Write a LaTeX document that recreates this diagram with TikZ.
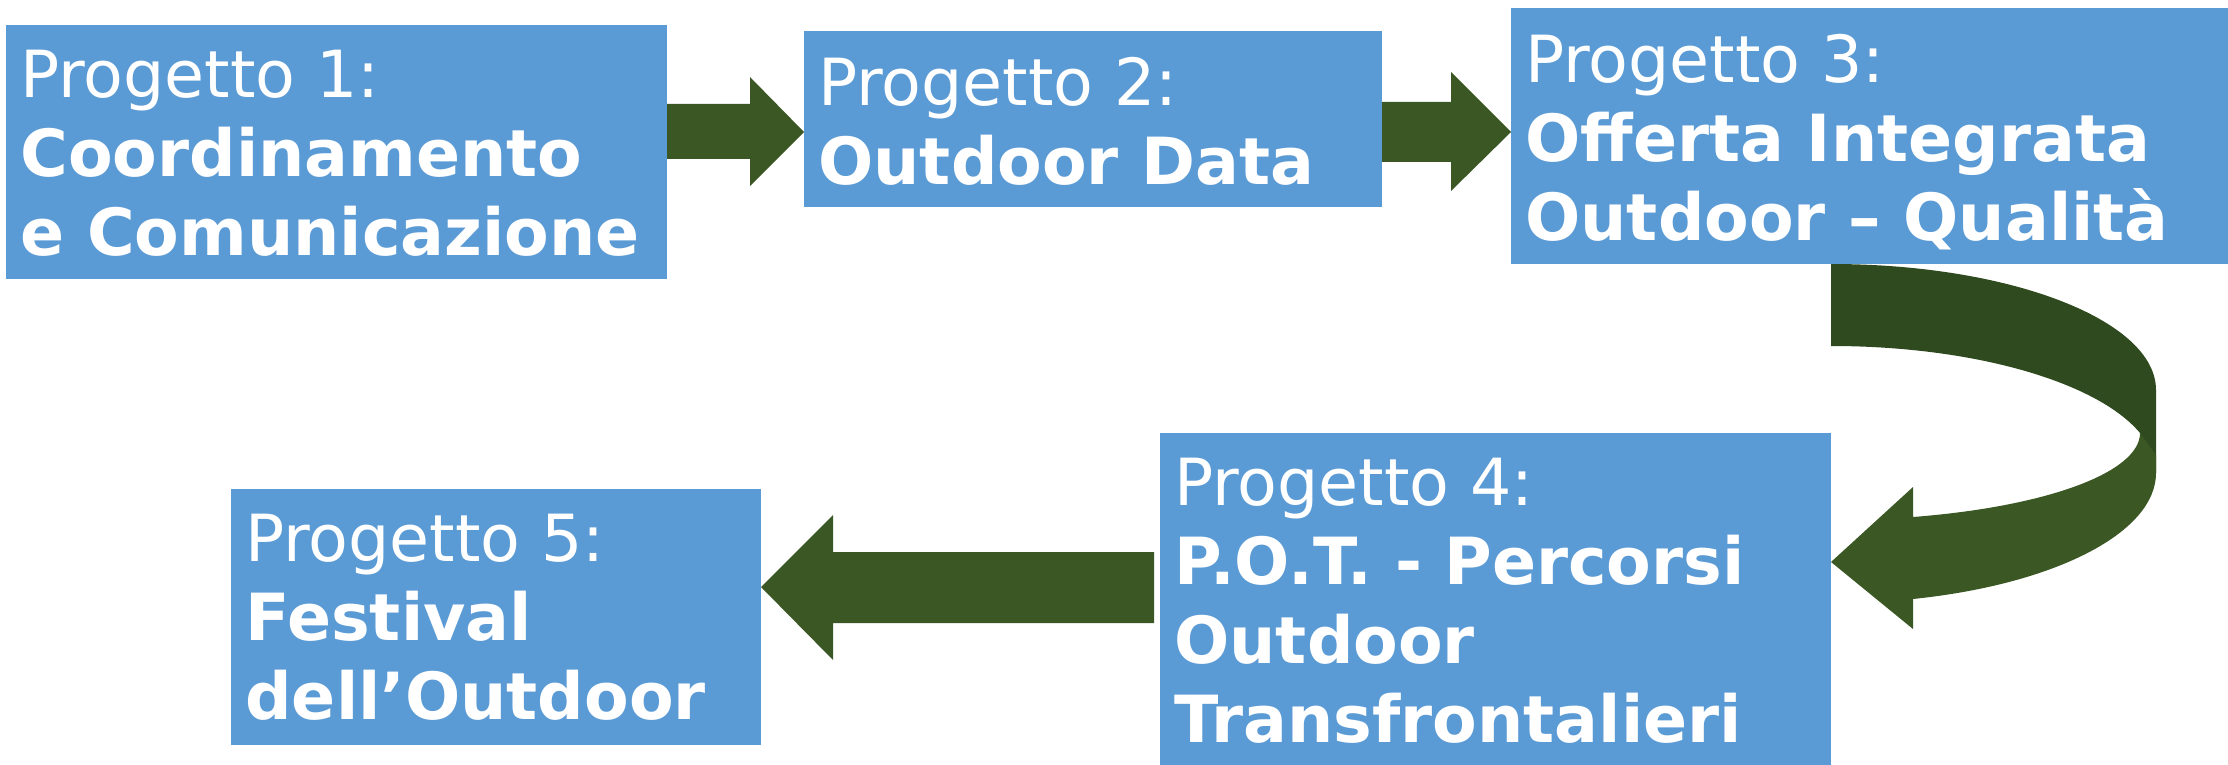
\documentclass[tikz,border=0pt]{standalone}
\usepackage{fontspec}
\setmainfont{DejaVu Sans}
\usetikzlibrary{calc}
\definecolor{boxblue}{HTML}{5B9BD5}
\definecolor{arrgreen}{HTML}{3B5724}
\definecolor{arrdark}{HTML}{2F4A1E}
\tikzset{
  box/.style={fill=boxblue, draw=none, inner sep=0pt, outer sep=0pt, anchor=north west},
  boxtext/.style={text=white, inner sep=0pt, anchor=north west, align=left,
    font=\fontsize{32.5}{39.5}\selectfont},
  blockarrow/.style={fill=arrgreen, draw=none},
  blockback/.style={fill=arrdark, draw=none}
}
\begin{document}
\begin{tikzpicture}[x=0.5pt, y=-0.5pt]
\useasboundingbox (0,0) rectangle (2228,765);
% boxes
\node[box, minimum width=330.5pt, minimum height=127pt] (b1) at (6,25) {};
\node[box, minimum width=289pt, minimum height=88pt] (b2) at (804,31) {};
\node[box, minimum width=358.5pt, minimum height=128pt] (b3) at (1511,8) {};
\node[box, minimum width=335.5pt, minimum height=166pt] (b4) at (1160,433) {};
\node[box, minimum width=265pt, minimum height=128pt] (b5) at (231,489) {};
% texts
\node[boxtext] (t1) at ([xshift=7pt,yshift=-12.5pt]b1.north west)
  {Progetto 1:\\\textbf{Coordinamento}\\\textbf{e Comunicazione}};
\node[boxtext] (t2) at ([xshift=7pt,yshift=-13pt]b2.north west)
  {Progetto 2:\\\textbf{Outdoor Data}};
\node[boxtext] (t3) at ([xshift=7pt,yshift=-13pt]b3.north west)
  {Progetto 3:\\\textbf{Offerta Integrata}\\\textbf{Outdoor – Qualità}};
\node[boxtext] (t4) at ([xshift=7pt,yshift=-12.5pt]b4.north west)
  {Progetto 4:\\\textbf{P.O.T. - Percorsi}\\\textbf{Outdoor}\\\textbf{Transfrontalieri}};
\node[boxtext] (t5) at ([xshift=7pt,yshift=-12.5pt]b5.north west)
  {Progetto 5:\\\textbf{Festival}\\\textbf{dell’Outdoor}};
% arrow 1 -> 2
\fill[blockarrow] (b1.east |- 0,104) -- (750,104) -- (750,77) -- (b2.west |- 0,132)
  -- (750,186) -- (750,159) -- (b1.east |- 0,159) -- cycle;
% arrow 2 -> 3
\fill[blockarrow] (b2.east |- 0,102) -- (1451,102) -- (1451,72) -- (b3.west |- 0,132)
  -- (1451,191) -- (1451,162) -- (b2.east |- 0,162) -- cycle;
% arrow 4 -> 5
\fill[blockarrow] ([xshift=-3pt]b4.west |- 0,552) -- (833,552) -- (833,515) -- (b5.east |- 0,587)
  -- (833,660) -- (833,623) -- ([xshift=-3pt]b4.west |- 0,623) -- cycle;
% curved arrow 3 -> 4 (back part)
\fill[blockback] (b4.east |- b3.south) .. controls (2010.5,264) and (2156,320.4) .. (2156,390)
  -- (2156,473) -- (2140,433)
  .. controls (2096.6,381.2) and (1971.8,346) .. (1831,346) -- cycle;
% curved arrow 3 -> 4 (front part with head)
\fill[blockarrow] (2140,433) .. controls (2140,472.2) and (2047.1,506.6) .. (1913,517)
  -- (1913,487) -- (b4.east |- 0,562) -- (1913,629) -- (1913,599)
  .. controls (2056.2,584.1) and (2156,532.2) .. (2156,473)
  -- (2156,455) -- cycle;
\end{tikzpicture}
\end{document}
